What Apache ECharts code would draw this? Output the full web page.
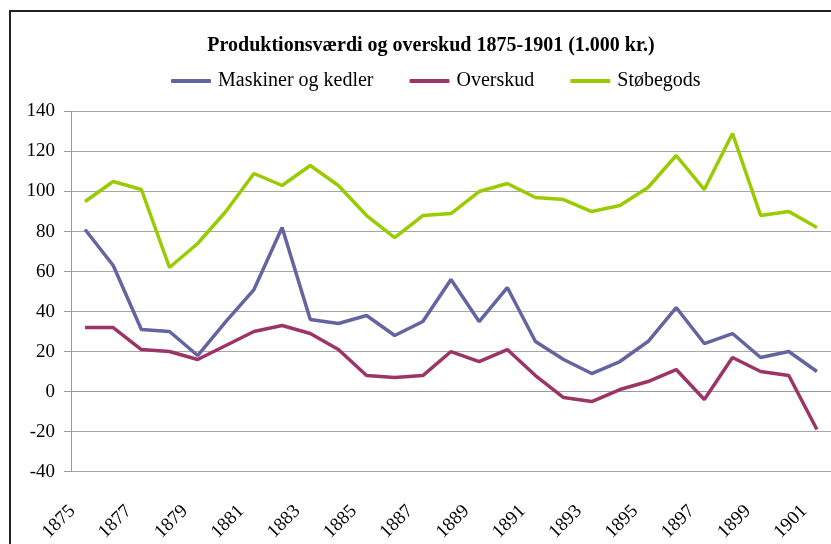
<!DOCTYPE html>
<html>
<head>
<meta charset="utf-8">
<script src="https://cdn.jsdelivr.net/npm/echarts@6/dist/echarts.min.js"></script>
<style>
  html, body { margin: 0; padding: 0; background: #fff; }
  #chart { width: 831px; height: 544px; }
</style>
</head>
<body>
<div id="chart"></div>
<script>
// years on the category axis
const years = ['1875', '1876', '1877', '1878', '1879', '1880', '1881', '1882', '1883', '1884',
  '1885', '1886', '1887', '1888', '1889', '1890', '1891', '1892', '1893', '1894',
  '1895', '1896', '1897', '1898', '1899', '1900', '1901']

// values in 1.000 kr.
const maskiner = [81, 63, 31, 30, 18, 35, 51, 82, 36, 34, 38, 28, 35, 56, 35, 52, 25, 16, 9, 15, 25, 42, 24, 29, 17, 20, 10]
const overskud = [32, 32, 21, 20, 16, 23, 30, 33, 29, 21, 8, 7, 8, 20, 15, 21, 8, -3, -5, 1, 5, 11, -4, 17, 10, 8, -19]
const stobegods = [95, 105, 101, 62, 74, 90, 109, 103, 113, 103, 88, 77, 88, 89, 100, 104, 97, 96, 90, 93, 102, 118, 101, 129, 88, 90, 82]

const seriesNames = ['Maskiner og kedler', 'Overskud', 'Støbegods']
const seriesColors = ['#6464a0', '#9c3567', '#99cc00']

const font = 'Liberation Serif'
const chart = echarts.init(document.getElementById('chart'))

const lineSeries = (name, data, color) => ({
  name: name,
  type: 'line',
  data: data,
  symbol: 'none',
  lineStyle: { color: color, width: 3.5 },
  itemStyle: { color: color },
  animation: false
})

chart.setOption({
  backgroundColor: '#fff',
  textStyle: { fontFamily: font, color: '#000' },
  title: {
    text: 'Produktionsværdi og overskud 1875-1901 (1.000 kr.)',
    left: 426,
    textAlign: 'center',
    top: 31,
    textStyle: { fontFamily: font, fontSize: 20, fontWeight: 'bold', color: '#000' }
  },
  legend: {
    data: seriesNames,
    left: 166,
    top: 66,
    itemWidth: 40,
    itemHeight: 4,
    itemGap: 36,
    icon: 'roundRect',
    textStyle: { fontFamily: font, fontSize: 20, color: '#000', padding: [0, 0, 0, 2] }
  },
  graphic: [{
    type: 'rect',
    shape: { x: 10, y: 11, width: 900, height: 700 },
    style: { fill: 'none', stroke: '#222', lineWidth: 2 },
    silent: true
  }],
  grid: { left: 71, top: 111.5, width: 765, height: 361.5 },
  xAxis: {
    type: 'category',
    data: years,
    boundaryGap: true,
    axisLine: { lineStyle: { color: '#9a9a9a', width: 1 } },
    axisTick: { interval: 0, length: 6, lineStyle: { color: '#9a9a9a' } },
    axisLabel: {
      interval: 1,
      rotate: 45,
      margin: 24,
      padding: [0, 18, 0, 0],
      fontFamily: font,
      fontSize: 19,
      color: '#000'
    }
  },
  yAxis: {
    type: 'value',
    min: -40,
    max: 140,
    interval: 20,
    axisLine: { show: true, lineStyle: { color: '#9a9a9a', width: 1 } },
    axisTick: { show: true, length: 7, lineStyle: { color: '#9a9a9a' } },
    axisLabel: { margin: 16, fontFamily: font, fontSize: 19, color: '#000' },
    splitLine: { lineStyle: { color: '#a6a6a6', width: 1.2 } }
  },
  series: [
    lineSeries(seriesNames[0], maskiner, seriesColors[0]),
    lineSeries(seriesNames[1], overskud, seriesColors[1]),
    lineSeries(seriesNames[2], stobegods, seriesColors[2])
  ]
})
</script>
</body>
</html>
